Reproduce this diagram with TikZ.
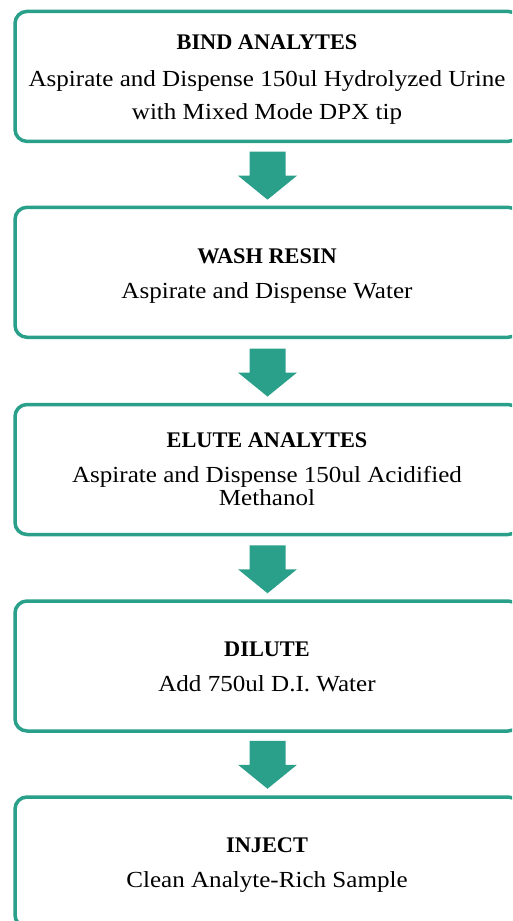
\documentclass[tikz,border=0pt]{standalone}
\usepackage{fontspec}
\setmainfont{Liberation Serif}[FakeStretch=1.09]
\newfontfamily\titlefam{Liberation Serif}
\definecolor{tealc}{RGB}{42,160,138}
\begin{document}
\begin{tikzpicture}[x=1pt,y=-1pt,
  stepbox/.style={draw=tealc, line width=3.5pt, rounded corners=12pt, minimum width=505pt, minimum height=130pt, inner sep=0pt},
  titletext/.style={anchor=base, inner sep=0pt, font=\titlefam\fontsize{22.3}{26}\selectfont\bfseries},
  bodytext/.style={anchor=base, inner sep=0pt, font=\fontsize{23}{27}\selectfont},
  blockarrow/.pic={\fill[tealc] (-18,0) -- (18,0) -- (18,24) -- (29.5,24) -- (0,48) -- (-29.5,24) -- (-18,24) -- cycle;}]
\useasboundingbox (0,0) rectangle (512,921);
\clip (0,0) rectangle (512,921);

\node[stepbox] (b1) at (267.5,76.4) {};
\node[stepbox] (b2) at (267.5,272.3) {};
\node[stepbox] (b3) at (267.5,469.5) {};
\node[stepbox] (b4) at (267.5,666) {};
\node[stepbox] (b5) at (267.5,862) {};

\node[titletext] (t1) at (267,49) {BIND ANALYTES};
\node[bodytext] (l1a) at (267,86) {Aspirate and Dispense 150ul Hydrolyzed Urine};
\node[bodytext] (l1b) at (267,119) {with Mixed Mode DPX tip};

\node[titletext] (t2) at (267,263) {WASH RESIN};
\node[bodytext] (l2a) at (267,298) {Aspirate and Dispense Water};

\node[titletext] (t3) at (267,447) {ELUTE ANALYTES};
\node[bodytext] (l3a) at (267,482) {Aspirate and Dispense 150ul Acidified};
\node[bodytext] (l3b) at (267,505) {Methanol};

\node[titletext] (t4) at (267,656) {DILUTE};
\node[bodytext] (l4a) at (267,691) {Add 750ul D.I. Water};

\node[titletext] (t5) at (267,852) {INJECT};
\node[bodytext] (l5a) at (267,887) {Clean Analyte-Rich Sample};

\pic at ([yshift=-8.5pt]b1.south) {blockarrow};
\pic at ([yshift=-9.5pt]b2.south) {blockarrow};
\pic at ([yshift=-9pt]b3.south) {blockarrow};
\pic at ([yshift=-8pt]b4.south) {blockarrow};
\end{tikzpicture}
\end{document}
